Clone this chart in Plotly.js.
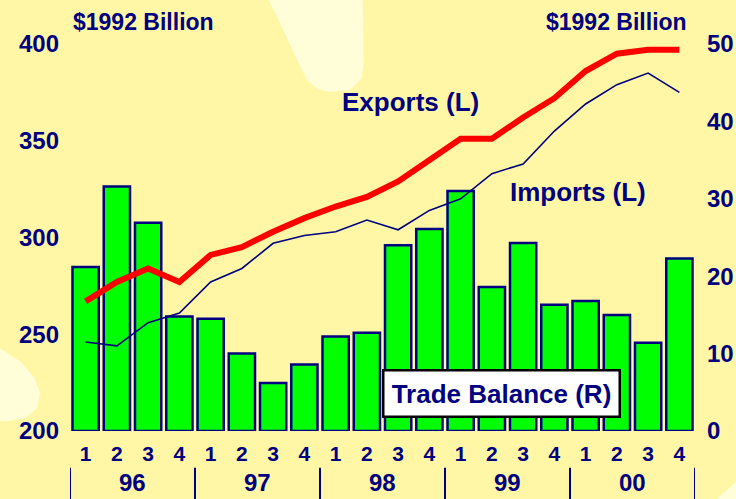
<!DOCTYPE html>
<html>
<head>
<meta charset="utf-8">
<script src="https://cdn.plot.ly/plotly-3.0.1.min.js"></script>
<style>html,body{margin:0;padding:0;background:#FFF7A6;}#chart{width:736px;height:499px;}</style>
</head>
<body>
<div id="chart"></div>
<script>
var quarterLabels = ['1','2','3','4','1','2','3','4','1','2','3','4','1','2','3','4','1','2','3','4'];
var yearLabels = ['96','97','98','99','00'];
var exportsL = [267, 277, 284, 277, 291, 295, 303, 310, 316, 321, 329, 340, 351, 351, 362, 372, 386, 395, 397, 397];
var importsL = [246, 244, 256, 261, 277, 284, 297, 301, 303, 309, 304, 314, 320, 333, 338, 355, 369, 379, 385, 375];
var tradeBalanceR = [21.2, 31.6, 26.9, 14.8, 14.5, 10.0, 6.2, 8.6, 12.2, 12.7, 24.0, 26.1, 31.0, 18.6, 24.3, 16.3, 16.8, 15.0, 11.4, 22.3];

var idx = quarterLabels.map(function(_, i){ return i; });
var navy = '#000080';
var fnt = 'Arial, "Liberation Sans", sans-serif';

var traces = [
  {type:'bar', x: idx, y: tradeBalanceR, yaxis:'y',
   marker:{color:'#00FF00', line:{color:navy, width:2.5}}, hoverinfo:'skip'},
  {type:'scatter', mode:'lines', x: idx, y: importsL, yaxis:'y2',
   line:{color:navy, width:1.6}, hoverinfo:'skip'},
  {type:'scatter', mode:'lines', x: idx, y: exportsL, yaxis:'y2',
   line:{color:'#FF0000', width:6}, hoverinfo:'skip'}
];

function ann(txt, x, y, size, extra) {
  var a = {text:'<b>' + txt + '</b>', xref:'paper', yref:'paper', x:x, y:y, xanchor:'center', yanchor:'middle',
    showarrow:false, font:{family:fnt, size:size, color:navy}};
  for (var k in extra) a[k] = extra[k];
  return a;
}
var annotations = [
  ann('$1992 Billion', 0.118, 1.057, 23, {}),
  ann('$1992 Billion', 0.875, 1.057, 23, {}),
  ann('Exports (L)', 0.544, 0.850, 26, {}),
  ann('Imports (L)', 0.813, 0.618, 26, {}),
  ann('Trade Balance (R)', 0.690, 0.098, 26,
    {bgcolor:'#FFFFFF', bordercolor:'#000000', borderwidth:2.5, width:232, height:42})
];
yearLabels.forEach(function(yl, k){
  annotations.push({text: '<b>' + yl + '</b>', xref:'x', yref:'paper', x: 1.5 + 4*k, y: -0.132,
    xanchor:'center', yanchor:'middle', showarrow:false, font:{family:fnt, size:24, color:navy}});
});

var light = '#FFFED8';
var shapes = [
  {type:'path', xref:'paper', yref:'paper', layer:'below', line:{width:0}, fillcolor:light,
   path:'M 0.293 1.2 L 0.379 0.907 L 0.397 0.884 L 0.416 0.876 L 0.448 0.881 L 0.467 0.912 L 0.470 0.959 L 0.467 1.2 Z'},
  {type:'path', xref:'paper', yref:'paper', layer:'below', line:{width:0}, fillcolor:light,
   path:'M -0.12 0.222 L -0.08 0.18 L -0.058 0.14 L -0.048 0.10 L -0.052 0.06 L -0.07 0.035 L -0.1 0.025 L -0.12 0.025 Z'},
  {type:'path', xref:'paper', yref:'paper', layer:'below', line:{width:0}, fillcolor:light,
   path:'M 1.07 -0.125 L 1.07 -0.18 L 1.032 -0.18 Z'}
];
for (var k = 0; k <= yearLabels.length; k++) {
  shapes.push({type:'line', xref:'x', yref:'paper', x0: -0.5 + 4*k, x1: -0.5 + 4*k,
    y0: -0.095, y1: -0.18, line:{color:navy, width:2}});
}

var layout = {
  width:736, height:499,
  margin:{l:70, r:41, t:44, b:68},
  paper_bgcolor:'#FFF7A6', plot_bgcolor:'rgba(0,0,0,0)',
  showlegend:false, bargap:0.16,
  xaxis:{range:[-0.5, 19.5], tickvals: idx, ticktext: quarterLabels, showgrid:false, zeroline:false,
    showline:false, ticks:'', ticklabelstandoff:8,
    tickfont:{family:fnt, size:21, color:navy, weight:'bold'}},
  yaxis:{range:[0, 50], side:'right', tickvals:[0,10,20,30,40,50], showgrid:false, zeroline:false,
    showline:false, ticks:'', ticklabelstandoff:11,
    tickfont:{family:fnt, size:24, color:navy, weight:'bold'}},
  yaxis2:{range:[200, 400], side:'left', overlaying:'y', tickvals:[200,250,300,350,400], showgrid:false,
    zeroline:false, showline:false, ticks:'', ticklabelstandoff:10,
    tickfont:{family:fnt, size:24, color:navy, weight:'bold'}},
  annotations: annotations,
  shapes: shapes
};

Plotly.newPlot('chart', traces, layout, {staticPlot:true, displayModeBar:false});
</script>
</body>
</html>
